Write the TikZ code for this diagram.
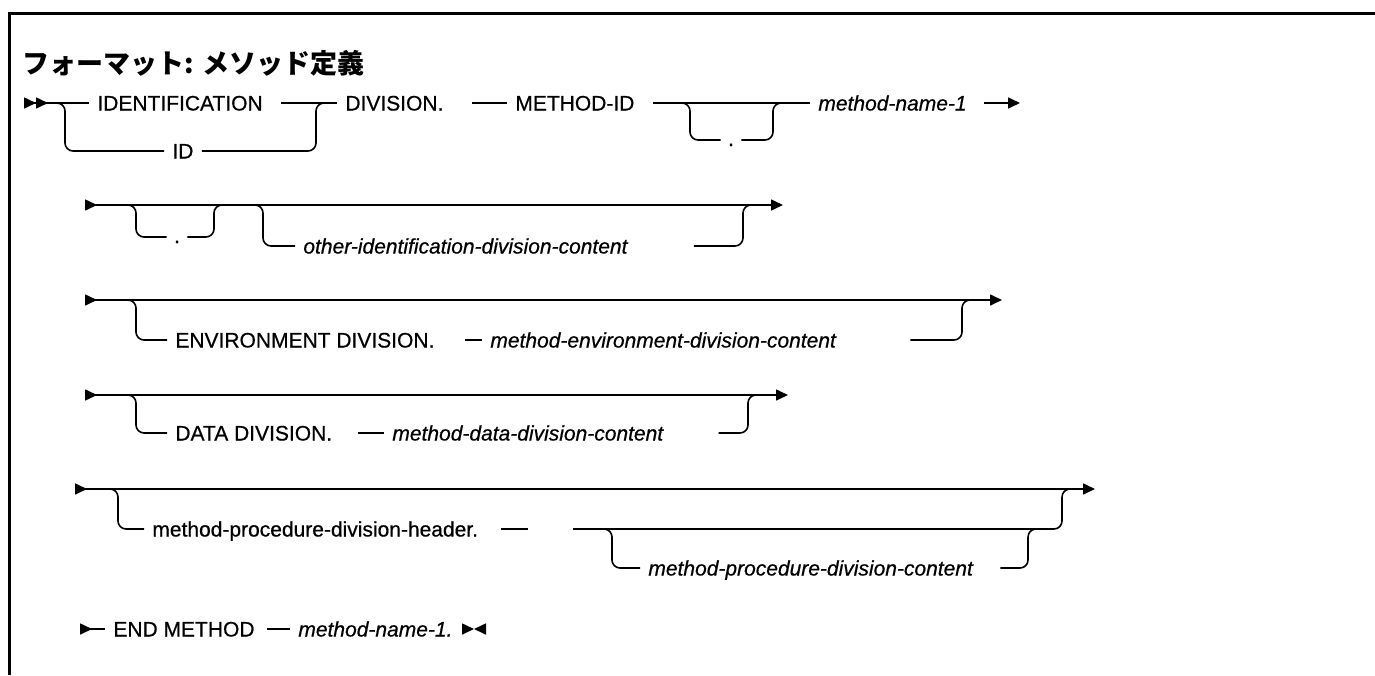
\documentclass[tikz,border=0pt]{standalone}
\usepackage{fontspec}
\setmainfont{Liberation Sans}
\newfontfamily\railfont{Liberation Sans}[FakeBold=0.6]
\newfontfamily\jpfont{Noto Sans CJK JP}
\usetikzlibrary{arrows.meta}
\newcommand{\rdot}{\raisebox{-3pt}{.}}

\begin{document}
\begin{tikzpicture}[x=0.5pt, y=-0.5pt,
        rail/.style={line width=0.8pt, rounded corners=4pt},
        tri/.tip={Triangle[length=6pt, width=5.5pt]},
        irt/.tip={Triangle[reversed, length=6pt, width=5.5pt]},
        kw/.style={anchor=west, inner xsep=4pt, inner ysep=0pt, text height=7.5pt, text depth=0pt, font=\fontsize{10.5}{12}\railfont},
        var/.style={kw, font=\fontsize{10.5}{12}\railfont\itshape},
        period/.style={inner sep=0pt, minimum width=10pt, text height=0pt, text depth=0pt, font=\fontsize{10.5}{12}\railfont}]
      \useasboundingbox (0,0) rectangle (1375,675);
      \draw[line width=1.5pt] (1375,13) -- (9,13) -- (9,675);
      \node[anchor=west, inner sep=0pt, font=\fontsize{13.5}{15}\jpfont\bfseries] (title) at (22,63) {フォーマット: メソッド定義};

      \coordinate (s1) at (24,103);
      \coordinate (b1l) at (65,103);
      \coordinate (b1r) at (316,103);
      \coordinate (b2l) at (690,103);
      \coordinate (b2r) at (773,103);
      \coordinate (c1) at (1020,103);
      \node[kw] (ident) at (89,103) {IDENTIFICATION};
      \node[kw] (idb) at (164,151) {ID};
      \node[kw] (div) at (337,103) {DIVISION.};
      \node[kw] (mid) at (507,103) {METHOD-ID};
      \node[period] (dot1) at (731,140) {\rdot};
      \node[var] (mn1) at (810,103) {method-name-1};

      \draw[rail, {irt[]irt[]}-] (s1) -- (ident);
      \draw[rail] ([xshift=-5pt]b1l) -- (b1l) -- (b1l |- idb) -- (idb);
      \draw[rail] (idb) -- (b1r |- idb) -- (b1r) -- ([xshift=5pt]b1r);
      \draw[rail, shorten <=5pt] (ident) -- (div);
      \draw[rail, shorten <=10pt] (div) -- (mid);
      \draw[rail, shorten <=5pt] (mid) -- (mn1);
      \draw[rail] ([xshift=-5pt]b2l) -- (b2l) -- (b2l |- dot1) -- (dot1);
      \draw[rail] (dot1) -- (b2r |- dot1) -- (b2r) -- ([xshift=5pt]b2r);
      \draw[rail, -{tri[]}, shorten <=4.5pt] (mn1) -- (c1);

      \coordinate (s2) at (85,205);
      \coordinate (e2) at (783,205);
      \coordinate (b3l) at (136,205);
      \coordinate (b3r) at (214,205);
      \coordinate (b4l) at (263,205);
      \coordinate (b4r) at (743,205);
      \node[period] (dot2) at (177,237) {\rdot};
      \node[var] (oid) at (295,246) {other-identification-division-content};

      \draw[rail, {irt[]}-{tri[]}] (s2) -- (e2);
      \draw[rail] ([xshift=-5pt]b3l) -- (b3l) -- (b3l |- dot2) -- (dot2);
      \draw[rail] (dot2) -- (b3r |- dot2) -- (b3r) -- ([xshift=5pt]b3r);
      \draw[rail] ([xshift=-5pt]b4l) -- (b4l) -- (b4l |- oid) -- (oid);
      \draw[rail, shorten <=29pt] (oid) -- (b4r |- oid) -- (b4r) -- ([xshift=5pt]b4r);

      \coordinate (s3) at (85,300);
      \coordinate (e3) at (1002,300);
      \coordinate (b5l) at (136,300);
      \coordinate (b5r) at (962,300);
      \node[kw] (envdiv) at (167,340) {ENVIRONMENT DIVISION.};
      \node[var] (envc) at (482,340) {method-environment-division-content};

      \draw[rail, {irt[]}-{tri[]}] (s3) -- (e3);
      \draw[rail] ([xshift=-5pt]b5l) -- (b5l) -- (b5l |- envdiv) -- (envdiv);
      \draw[rail, shorten <=11pt] (envdiv) -- (envc);
      \draw[rail, shorten <=33pt] (envc) -- (b5r |- envc) -- (b5r) -- ([xshift=5pt]b5r);

      \coordinate (s4) at (85,395);
      \coordinate (e4) at (788,395);
      \coordinate (b6l) at (136,395);
      \coordinate (b6r) at (748,395);
      \node[kw] (datadiv) at (167,433) {DATA DIVISION.};
      \node[var] (datac) at (384,433) {method-data-division-content};

      \draw[rail, {irt[]}-{tri[]}] (s4) -- (e4);
      \draw[rail] ([xshift=-5pt]b6l) -- (b6l) -- (b6l |- datadiv) -- (datadiv);
      \draw[rail, shorten <=8.5pt] (datadiv) -- (datac);
      \draw[rail, shorten <=23.5pt] (datac) -- (b6r |- datac) -- (b6r) -- ([xshift=5pt]b6r);

      \coordinate (s5) at (75,489);
      \coordinate (e5) at (1095,489);
      \coordinate (b7l) at (118,489);
      \coordinate (b7r) at (1062,489);
      \coordinate (hd) at (528,529);
      \coordinate (g5) at (573,529);
      \coordinate (b8l) at (612,529);
      \coordinate (b8r) at (1028,529);
      \node[kw] (hdr) at (144,529) {method-procedure-division-header.};
      \node[var] (pdc) at (640,568) {method-procedure-division-content};

      \draw[rail, {irt[]}-{tri[]}] (s5) -- (e5);
      \draw[rail] ([xshift=-5pt]b7l) -- (b7l) -- (b7l |- hdr) -- (hdr);
      \draw[rail, shorten <=7.5pt] (hdr) -- (hd);
      \draw[rail] (g5) -- (b7r |- g5) -- (b7r) -- ([xshift=5pt]b7r);
      \draw[rail] ([xshift=-5pt]b8l) -- (b8l) -- (b8l |- pdc) -- (pdc);
      \draw[rail, shorten <=9.5pt] (pdc) -- (b8r |- pdc) -- (b8r) -- ([xshift=5pt]b8r);

      \coordinate (s6) at (80,629);
      \coordinate (e6) at (486,629);
      \node[kw] (endm) at (105,629) {END METHOD};
      \node[var] (mnend) at (290,629) {method-name-1.};

      \draw[rail, {irt[]}-] (s6) -- (endm);
      \draw[rail, shorten <=2pt] (endm) -- (mnend);
      \draw[rail, -{tri[]irt[]}, shorten <=8.5pt] (mnend) -- (e6);
    \end{tikzpicture}
\end{document}
